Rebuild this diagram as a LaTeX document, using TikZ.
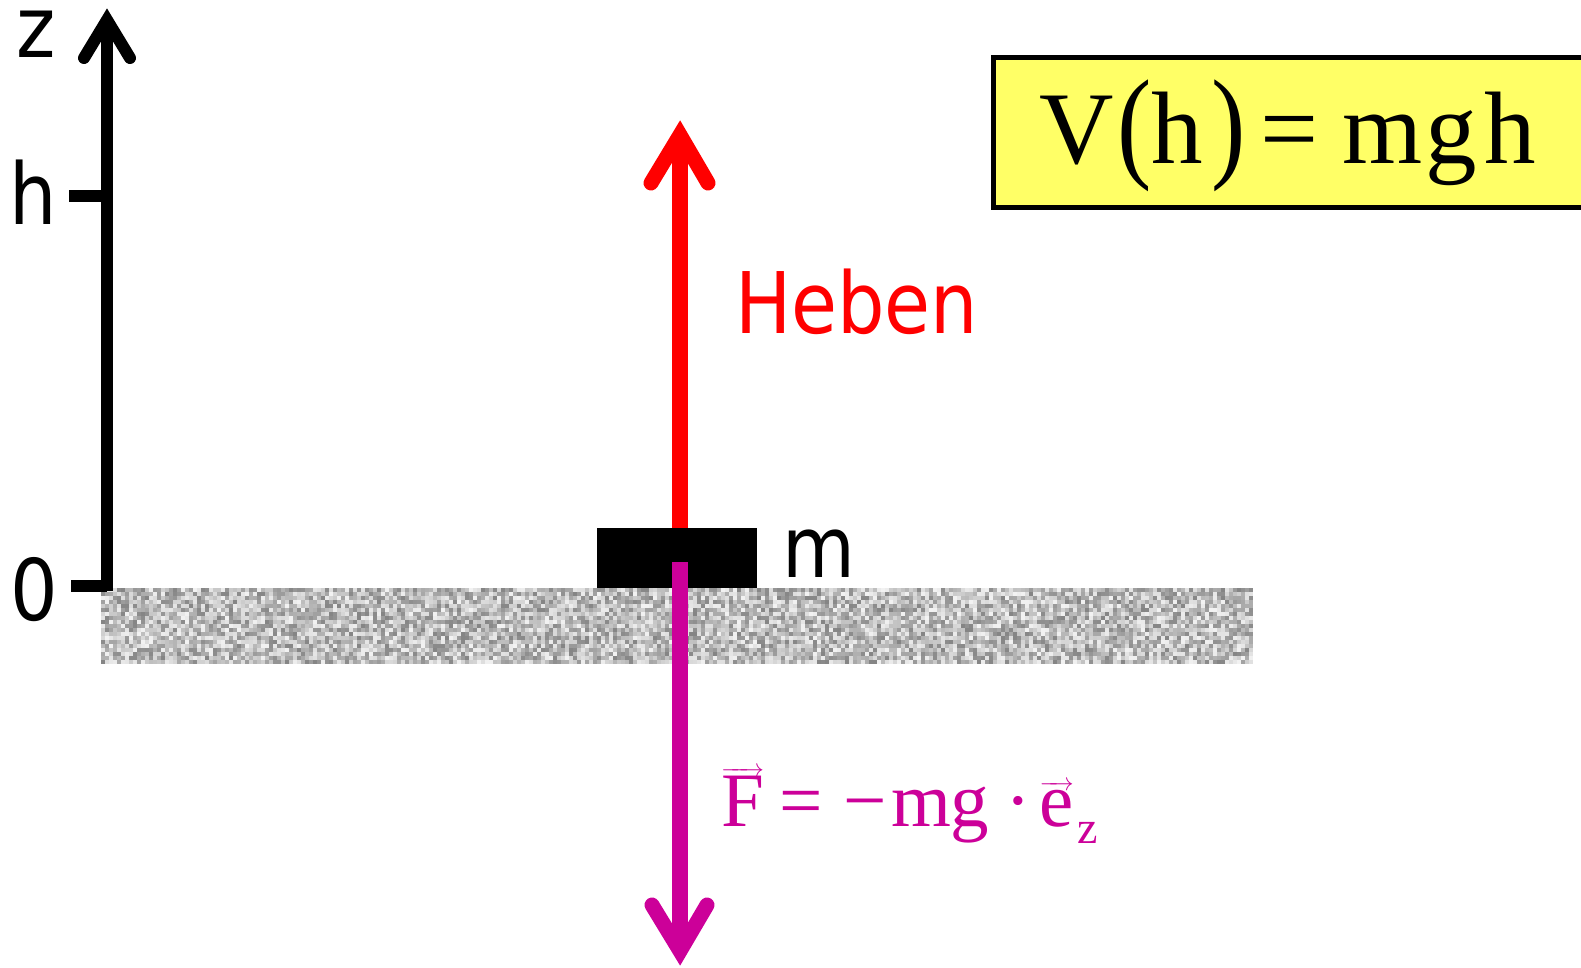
\documentclass[tikz,border=0pt]{standalone}
\usepackage{fontspec}
\usepackage{graphicx}
\setmainfont{Liberation Serif}
\newfontfamily\lblfont[FakeStretch=0.88]{DejaVu Sans}
\definecolor{myyellow}{HTML}{FFFF66}
\definecolor{mymagenta}{HTML}{CC0099}
\definecolor{myred}{HTML}{FF0000}
\begin{document}
\begin{tikzpicture}[x=1pt,y=-1pt,
  lbl/.style={inner sep=0pt, anchor=base west, font=\lblfont\fontsize{85}{85}\selectfont},
  shaft/.style={line width=#1},
  barb/.style={line width=#1, line cap=round, line join=miter, miter limit=10},
  formula/.style={inner sep=0pt, anchor=base west}]
\useasboundingbox (0,0) rectangle (1581,968);

% ground texture
\pgfmathsetseed{4711}
\begin{scope}
  \clip (101,588) rectangle (1253,664);
  \fill[black!25] (101,588) rectangle (1253,664);
  \foreach \i in {0,...,287}{
    \foreach \j in {0,...,18}{
      \pgfmathtruncatemacro\g{52+44*rnd}
      \fill[white!\g!black] (101+4*\i,588+4*\j) rectangle ++(4,4);
    }
  }
\end{scope}

% z axis
\coordinate (axbot) at (107,591);
\coordinate (axtop) at (107,20);
\coordinate (tickh) at (69,196);
\coordinate (tickz) at (71,586);
\draw[shaft=12pt] (axbot) -- (axtop);
\draw[barb=12pt] (84,58) -- (axtop) -- (130,58);
\draw[shaft=12pt] (tickh) -- (tickh -| axtop);
\draw[shaft=12pt] (tickz) -- (tickz -| axtop);
\node[lbl] (lz) at (16,58) {z};
\node[lbl] (lh) at (9,225) {h};
\node[lbl] (l0) at (10,620) {0};

% block
\node[fill=black, minimum width=160pt, minimum height=60pt, inner sep=0pt] (block) at (677,558) {};
\node[lbl] (lm) at (782,577) {m};

% red arrow (lifting)
\coordinate (redbase) at (680,528);
\coordinate (redtip) at (680,135);
\draw[myred, shaft=16pt] (redbase) -- (redtip);
\draw[myred, barb=15pt] (651,183) -- (redtip) -- (708,183);
\node[lbl, text=myred] (heben) at (735,333) {Heben};

% magenta arrow (force)
\coordinate (magbase) at (680,562);
\coordinate (magtip) at (680,951);
\draw[mymagenta, shaft=16pt] (magbase) -- (magtip);
\draw[mymagenta, barb=15pt] (652,905) -- (magtip) -- (707,905);
\node[formula, text=mymagenta, font=\fontsize{77}{77}\selectfont] (force) at (721,826)
  {$\overrightarrow{\hbox{F}}$\hspace{16pt}=\hspace{20pt}−\hspace{4.6pt}m\hspace{-1pt}g\hspace{17pt}·\hspace{8pt}$\overrightarrow{\hbox{e}}$\hspace{4pt}\raisebox{-17pt}{\fontsize{46}{46}\selectfont z}};

% formula box
\draw[line width=5pt, fill=myyellow] (993.5,57.5) rectangle (1590,207.5);
\node[formula, font=\fontsize{103}{103}\selectfont] (vh) at (1039,164)
  {V\hspace{4pt}\raisebox{-2pt}{\scalebox{1}[1.2]{(}}h\hspace{8pt}\raisebox{-2pt}{\scalebox{1}[1.2]{)}}\hspace{15pt}=\hspace{24pt}m\hspace{3pt}g\hspace{7pt}h};
\end{tikzpicture}
\end{document}
